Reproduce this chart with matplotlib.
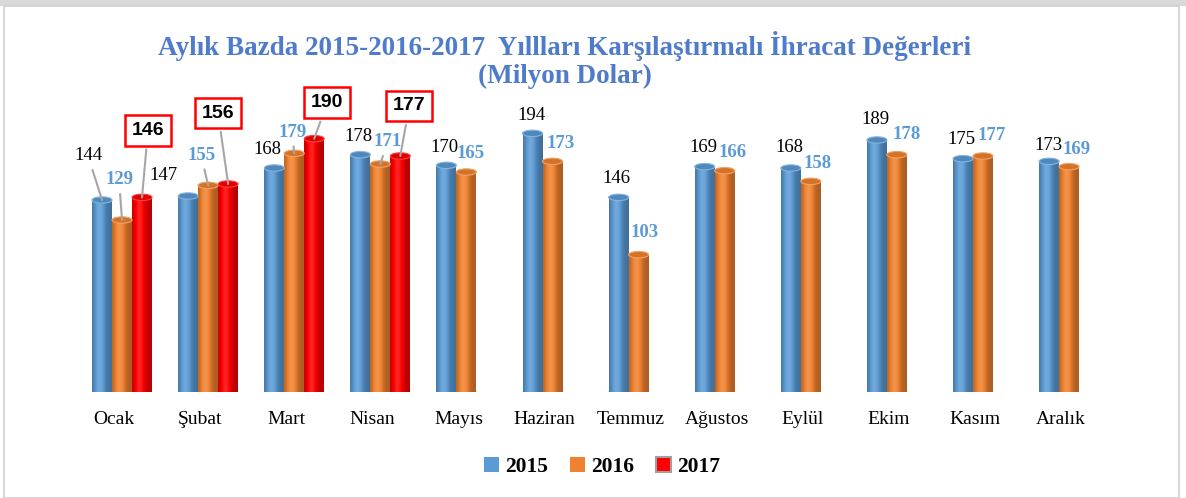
import numpy as np
import matplotlib
matplotlib.use('Agg')
import matplotlib.pyplot as plt
from matplotlib.patches import Rectangle, Ellipse, Patch

months = ['Ocak', 'Şubat', 'Mart', 'Nisan', 'Mayıs', 'Haziran', 'Temmuz',
          'Ağustos', 'Eylül', 'Ekim', 'Kasım', 'Aralık']
v2015 = [144, 147, 168, 178, 170, 194, 146, 169, 168, 189, 175, 173]
v2016 = [129, 155, 179, 171, 165, 173, 103, 166, 158, 178, 177, 169]
v2017 = [146, 156, 190, 177]

title = 'Aylık Bazda 2015-2016-2017  Yıllları Karşılaştırmalı İhracat Değerleri\n(Milyon Dolar)'

c2015 = '#5B9BD5'
c2016 = '#F0822F'
c2017 = '#FF0000'

# label offsets in pixels (dx, dy) from bar top, and whether a leader line is drawn
off2015 = [(-14, 44), (-25, 21), (-7, 18), (-2, 18), (-2, 18), (-1, 18),
           (-2, 19), (-1, 19), (-1, 20), (-1, 20), (-2, 19), (-1, 16)]
lead2015 = [True] + [False] * 11
off2016 = [(-3, 40), (-7, 30), (-2, 21), (7, 22), (4, 18), (8, 18),
           (6, 22), (8, 18), (7, 18), (10, 20), (9, 21), (7, 17)]
lead2016 = [True, True, True, True] + [False] * 8
off2017 = [(6, 67), (-10, 71), (13, 36), (9, 50)]

serif = 'Liberation Serif'
W, H = 1186, 498
fig = plt.figure(figsize=(W / 100, H / 100), dpi=100)
fig.patches.append(Rectangle((0, 1 - 6 / H), 1, 6 / H, transform=fig.transFigure,
                             facecolor='#d9d9d9', edgecolor='none', zorder=-10))
fig.patches.append(Rectangle((4 / W, 0), 1175 / W, 1 - 6 / H, transform=fig.transFigure,
                             facecolor='white', edgecolor='#cfcfcf', lw=1.2, zorder=-10))

ax = fig.add_axes([30 / W, (H - 392) / H, 1130 / W, 300 / H])
ax.set_facecolor('none')
for s in ax.spines.values():
    s.set_visible(False)

bw = 0.232
x = np.arange(len(months))
ylim = (0, 225)
cap_h = 4.8


def shade(base, f):
    base = np.array(matplotlib.colors.to_rgb(base))
    if f < 1:
        return base * f
    return base + (1 - base) * (f - 1)


def cylinder(xc, h, color):
    x0, x1 = xc - bw / 2, xc + bw / 2
    t = np.linspace(0, 1, 60)
    f = 0.72 + 0.42 * np.exp(-((t - 0.38) / 0.28) ** 2)
    img = np.array([[shade(color, fi) for fi in f]])
    # bottom half ellipse
    ax.add_patch(Ellipse((xc, 0), bw, cap_h, facecolor=shade(color, 0.8),
                         edgecolor='none', zorder=2))
    rect = Rectangle((x0, 0), bw, h, facecolor='none', edgecolor='none', zorder=3)
    ax.add_patch(rect)
    im = ax.imshow(img, extent=[x0, x1, 0, h], aspect='auto', zorder=3,
                   interpolation='bilinear')
    im.set_clip_path(rect)
    ax.add_patch(Ellipse((xc, h), bw, cap_h, facecolor=shade(color, 0.88),
                         edgecolor=shade(color, 1.25), lw=0.8, zorder=4))


for i in range(len(months)):
    cylinder(x[i] - 0.139, v2015[i], c2015)
    cylinder(x[i] + 0.093, v2016[i], c2016)
for i in range(len(v2017)):
    cylinder(x[i] + 0.325, v2017[i], c2017)

lead = dict(arrowstyle='-', color='#A6A6A6', lw=1.5, shrinkA=2, shrinkB=0)
for i in range(len(months)):
    ax.annotate(str(v2015[i]), (x[i] - 0.139, v2015[i]), xytext=off2015[i],
                textcoords='offset pixels', ha='center', va='center',
                fontsize=13.5, family=serif, color='black', zorder=6,
                arrowprops=lead if lead2015[i] else None)
    ax.annotate(str(v2016[i]), (x[i] + 0.093, v2016[i]), xytext=off2016[i],
                textcoords='offset pixels', ha='center', va='center',
                fontsize=13.5, family=serif, fontweight='bold', color=c2015, zorder=6,
                arrowprops=lead if lead2016[i] else None)
for i in range(len(v2017)):
    ax.annotate(str(v2017[i]), (x[i] + 0.325, v2017[i]), xytext=off2017[i],
                textcoords='offset pixels', ha='center', va='center',
                fontsize=14, family='Liberation Sans', fontweight='bold', color='black',
                bbox=dict(boxstyle='square,pad=0.35', facecolor='white',
                          edgecolor='#FF0000', lw=1.8),
                zorder=6, arrowprops=lead)

ax.set_xlim(-0.976, 12.149)
ax.set_ylim(*ylim)
ax.set_yticks([])
ax.set_xticks(x)
ax.set_xticklabels(months, family=serif, fontsize=14)
ax.tick_params(axis='x', length=0, pad=14)

fig.text(565 / W, 1 - 60 / H, title, ha='center', va='center', family=serif,
         fontsize=19.5, fontweight='bold', color='#4F7BCB', linespacing=1.1)

handles = [Patch(facecolor=c2015, edgecolor='none'),
           Patch(facecolor=c2016, edgecolor='none'),
           Patch(facecolor=c2017, edgecolor='#A0A0A0', lw=1.5)]
fig.legend(handles, ['2015', '2016', '2017'], loc='center',
           bbox_to_anchor=(602 / W, 1 - 467 / H), ncol=3, frameon=False,
           prop=dict(family=serif, weight='bold', size=15.5),
           handlelength=0.7, handleheight=0.7, handletextpad=0.3, columnspacing=1.0)

fig.savefig('out.png', dpi=100)
